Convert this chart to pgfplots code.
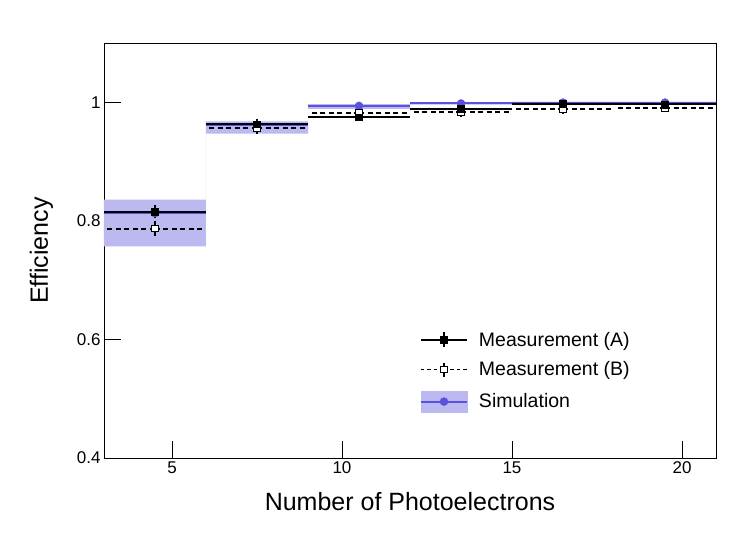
\documentclass[border=0pt]{standalone}
\usepackage{pgfplots}
\pgfplotsset{compat=1.18}
\usepackage{pgfplotstable}
\usepackage{fontspec}
\setmainfont{Liberation Sans}
\definecolor{bandcol}{RGB}{188,184,240}
\definecolor{simcol}{RGB}{88,82,220}

\pgfplotstableread{
x   ex   A      eA     B      eB     S
4.5 1.5  0.815  0.011  0.787  0.012  0.813
7.5 1.5  0.963  0.009  0.957  0.011  0.962
10.5 1.5 0.975  0.005  0.982  0.008  0.994
13.5 1.5 0.989  0.004  0.983  0.008  0.998
16.5 1.5 0.997  0.003  0.988  0.007  0.9995
19.5 1.5 0.9965 0.003  0.990  0.006  0.9995
}\datatable

\pgfplotstableread{
x  y
3  0.836
6  0.836
6  0.968
9  0.968
9  0.997
12 0.997
12 1.000
15 1.000
15 1.001
21 1.001
21 0.998
15 0.998
15 0.996
12 0.996
12 0.989
9  0.989
9  0.947
6  0.947
6  0.757
3  0.757
}\bandtable

\begin{document}
\begin{tikzpicture}
\begin{axis}[
  scale only axis,
  width=612pt, height=415pt,
  xmin=3, xmax=21, ymin=0.4, ymax=1.1,
  xtick={5,10,15,20}, ytick={0.4,0.6,0.8,1},
  minor tick num=0,
  tick align=inside,
  xtick pos=bottom, ytick pos=left,
  major tick length=17pt,
  tick style={black, line width=0.6pt},
  axis line style={black, line width=0.8pt},
  /pgf/number format/assume math mode=true,
  ticklabel style={font=\fontsize{17}{19}\selectfont},
  xlabel={Number of Photoelectrons},
  ylabel={Efficiency},
  label style={font=\fontsize{25}{28}\selectfont},
  xlabel style={at={(axis description cs:0.5,-0.1253)}, anchor=base},
  ylabel style={at={(axis description cs:-0.0915,0.5)}, anchor=base},
  legend style={draw=none, fill=none, at={(axis description cs:0.516,0.3049)}, anchor=north west,
    font=\fontsize{19.5}{21}\selectfont, row sep=13.5pt, inner sep=0pt,
    nodes={inner sep=0pt}},
  legend cell align=left,
  legend style={column sep=11pt},
  reverse legend,
  clip=true,
]
% simulation band
\addplot[fill=bandcol, draw=none, forget plot] table[x=x, y=y] {\bandtable} -- cycle;
% simulation horizontal lines
\addplot[draw=none, forget plot, error bars/.cd, x dir=both, x explicit,
  error mark=none, error bar style={simcol, line width=2pt}]
  table[x=x, y=S, x error=ex] {\datatable};
% simulation markers
\addplot[only marks, mark=*, mark size=4pt, mark options={draw=simcol, fill=simcol},
  legend image code/.code={
    \fill[bandcol] (0pt,-10.5pt) rectangle (46pt,10.5pt);
    \draw[simcol, line width=2pt] (0pt,0pt) -- (46pt,0pt);
    \fill[simcol] (23pt,0pt) circle (4pt);
  }] table[x=x, y=S] {\datatable};
% B horizontal dashed
\addplot[draw=none, forget plot, error bars/.cd, x dir=both, x explicit,
  error mark=none, error bar style={black, line width=2pt, dash pattern=on 5pt off 3.5pt}]
  table[x=x, y=B, x error=ex] {\datatable};
% A horizontal solid
\addplot[draw=none, forget plot, error bars/.cd, x dir=both, x explicit,
  error mark=none, error bar style={black, line width=2pt}]
  table[x=x, y=A, x error=ex] {\datatable};
% B vertical + markers
\addplot[only marks, mark=square*, mark size=3.4pt, mark options={draw=black, fill=white, line width=1pt},
  error bars/.cd, y dir=both, y explicit, error mark=none, error bar style={black, line width=1.6pt},
  /pgfplots/legend image code/.code={
    \draw[black, line width=1.3pt, dash pattern=on 3.5pt off 3pt] (0pt,0pt) -- (18.5pt,0pt);
    \draw[black, line width=1.3pt, dash pattern=on 3.5pt off 3pt] (46pt,0pt) -- (27.5pt,0pt);
    \draw[black, line width=1.3pt] (23pt,-7pt) -- (23pt,7pt);
    \draw[black, fill=white, line width=1pt] (19.6pt,-3.4pt) rectangle (26.4pt,3.4pt);
  }]
  table[x=x, y=B, y error=eB] {\datatable};
% A vertical + markers
\addplot[only marks, mark=square*, mark size=3.4pt, mark options={draw=black, fill=black},
  error bars/.cd, y dir=both, y explicit, error mark=none, error bar style={black, line width=1.8pt},
  /pgfplots/legend image code/.code={
    \draw[black, line width=2pt] (0pt,0pt) -- (46pt,0pt);
    \draw[black, line width=1.6pt] (23pt,-7.5pt) -- (23pt,7.5pt);
    \fill[black] (19.6pt,-3.4pt) rectangle (26.4pt,3.4pt);
  }]
  table[x=x, y=A, y error=eA] {\datatable};
\legend{Simulation, Measurement (B), Measurement (A)}
\end{axis}
\pgfresetboundingbox
\path[use as bounding box] (current axis.south west) ++(-104pt,-81pt) rectangle ++(747pt,539pt);
\end{tikzpicture}
\end{document}
